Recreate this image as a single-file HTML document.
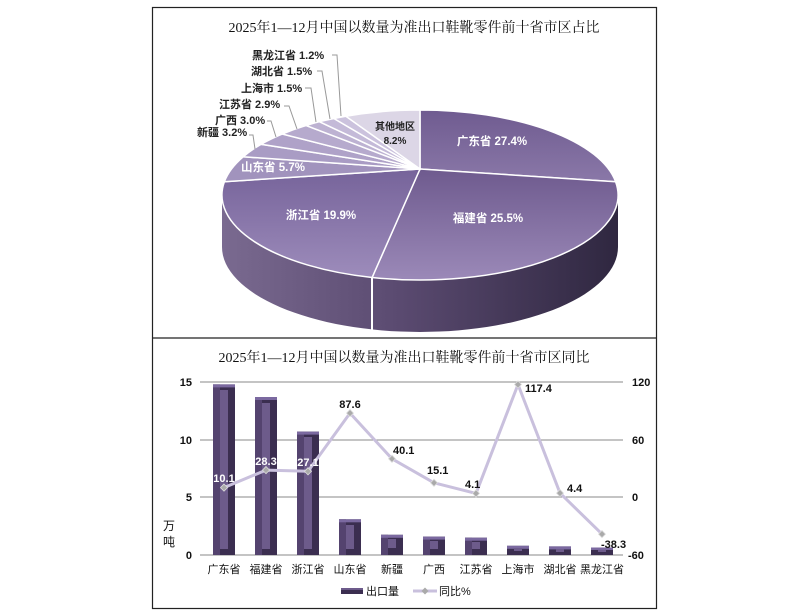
<!DOCTYPE html>
<html><head><meta charset="utf-8"><style>
body{margin:0;background:#fff;width:810px;height:613px;overflow:hidden}
svg{display:block}
text{font-family:"Liberation Sans","Noto Sans CJK SC",sans-serif}
.t{font-family:"Liberation Serif","Noto Serif CJK SC",serif;font-size:14px;fill:#111}
.lb{font-size:11px;font-weight:bold;fill:#222}
.wl{font-size:11.5px;font-weight:bold;fill:#fff}
.ax{font-size:11px;font-weight:bold;fill:#111}
.cat{font-size:11px;fill:#111}
.dl{font-size:11px;font-weight:bold;fill:#111}
</style></head><body>
<svg width="810" height="613" viewBox="0 0 810 613">
<defs>
<linearGradient id="wall" x1="0" x2="1" y1="0" y2="0">
<stop offset="0" stop-color="#7a6a90"/><stop offset="0.45" stop-color="#5a4a70"/><stop offset="1" stop-color="#2f2740"/></linearGradient>
<linearGradient id="gd" x1="0" y1="0" x2="0" y2="1"><stop offset="0" stop-color="#6f5b90"/><stop offset="1" stop-color="#8a78a8"/></linearGradient>
<linearGradient id="fj" x1="0" y1="0" x2="0" y2="1"><stop offset="0" stop-color="#6e5a8e"/><stop offset="1" stop-color="#9b89b8"/></linearGradient>
<linearGradient id="zj" x1="0" y1="0" x2="0" y2="1"><stop offset="0" stop-color="#76639a"/><stop offset="1" stop-color="#9d8cbb"/></linearGradient>
</defs>
<rect x="152.5" y="7.5" width="504" height="601" fill="#fff" stroke="#222" stroke-width="1.2"/>
<line x1="152" y1="338" x2="657" y2="338" stroke="#222" stroke-width="1.2"/>
<text class="t" x="414" y="32" text-anchor="middle">2025年1—12月中国以数量为准出口鞋靴零件前十省市区占比</text>
<!-- pie wall -->
<path d="M618,195 A198,85 0 0 1 222,195 L222,247 A198,85 0 0 0 618,247 Z" fill="url(#wall)"/>
<line x1="372" y1="278" x2="372" y2="332" stroke="#fff" stroke-width="2"/>
<!-- slices -->
<g stroke="#fff" stroke-width="1.5">
<path d="M420,169 L420,110 A198,85 0 0 1 615.6,181.7 Z" fill="url(#gd)"/>
<path d="M420,169 L615.6,181.7 A198,85 0 0 1 372.1,277.5 Z" fill="url(#fj)"/>
<path d="M420,169 L372.1,277.5 A198,85 0 0 1 224.4,181.7 Z" fill="url(#zj)"/>
<path d="M420,169 L224.4,181.7 A198,85 0 0 1 243.2,156.8 Z" fill="#a193bd"/>
<path d="M420,169 L243.2,156.8 A198,85 0 0 1 261,144.3 Z" fill="#a99cc4"/>
<path d="M420,169 L261,144.3 A198,85 0 0 1 282.2,134 Z" fill="#afa2c8"/>
<path d="M420,169 L282.2,134 A198,85 0 0 1 306.1,125.5 Z" fill="#b6aacd"/>
<path d="M420,169 L306.1,125.5 A198,85 0 0 1 319.4,121.7 Z" fill="#bdb2d2"/>
<path d="M420,169 L319.4,121.7 A198,85 0 0 1 333.9,118.5 Z" fill="#c4bad8"/>
<path d="M420,169 L333.9,118.5 A198,85 0 0 1 345.8,116.2 Z" fill="#cbc2dd"/>
<path d="M420,169 L345.8,116.2 A198,85 0 0 1 420,110 Z" fill="#dcd6e6"/>
</g>
<text class="wl" x="492" y="145" text-anchor="middle">广东省 27.4%</text>
<text class="wl" x="488" y="222" text-anchor="middle">福建省 25.5%</text>
<text class="wl" x="321" y="219" text-anchor="middle">浙江省 19.9%</text>
<text class="wl" x="273" y="171" text-anchor="middle">山东省 5.7%</text>
<text class="lb" x="395" y="130" text-anchor="middle" style="font-size:10px">其他地区</text>
<text class="lb" x="395" y="144" text-anchor="middle" style="font-size:10px">8.2%</text>
<!-- leader lines -->
<g stroke="#999" fill="none" stroke-width="1">
<polyline points="332,55 337,55 341,116"/>
<polyline points="317,71 322,71 330,119"/>
<polyline points="305,88 311,88 316,122"/>
<polyline points="284,106 289,106 297,129"/>
<polyline points="267,121 271,121 276,137"/>
<polyline points="249,135 253,135 255,149"/>
</g>
<text class="lb" x="252" y="59">黑龙江省 1.2%</text>
<text class="lb" x="251" y="75">湖北省 1.5%</text>
<text class="lb" x="241" y="92">上海市 1.5%</text>
<text class="lb" x="219" y="108">江苏省 2.9%</text>
<text class="lb" x="215" y="124">广西 3.0%</text>
<text class="lb" x="197" y="136">新疆 3.2%</text>

<!-- bottom chart -->
<text class="t" x="404" y="362" text-anchor="middle">2025年1—12月中国以数量为准出口鞋靴零件前十省市区同比</text>
<g stroke="#888" stroke-width="1">
<line x1="200" y1="382" x2="623" y2="382"/>
<line x1="200" y1="440" x2="623" y2="440"/>
<line x1="200" y1="497" x2="623" y2="497"/>
<line x1="200" y1="555" x2="623" y2="555"/>
</g>
<g class="ax" text-anchor="end">
<text x="192" y="386">15</text><text x="192" y="444">10</text><text x="192" y="501">5</text><text x="192" y="559">0</text>
</g>
<g class="ax">
<text x="632" y="386">120</text><text x="632" y="444">60</text><text x="632" y="501">0</text><text x="628" y="559">-60</text>
</g>
<text class="cat" x="163" y="530" style="font-size:12px">万</text>
<text class="cat" x="163" y="546" style="font-size:12px">吨</text>
<!-- bars -->
<g>
<rect x="213" y="384.4" width="22" height="170.6" fill="#3b2e50"/><rect x="213" y="384.4" width="7" height="170.6" fill="#54436f"/><rect x="220" y="390" width="8" height="159" fill="#6d5b8b"/><rect x="213" y="384.4" width="22" height="3" fill="#7b69a0"/>
<rect x="255" y="397" width="22" height="158" fill="#3b2e50"/><rect x="255" y="397" width="7" height="158" fill="#54436f"/><rect x="262" y="403" width="8" height="146" fill="#6d5b8b"/><rect x="255" y="397" width="22" height="3" fill="#7b69a0"/>
<rect x="297" y="431.6" width="22" height="123.4" fill="#3b2e50"/><rect x="297" y="431.6" width="7" height="123.4" fill="#54436f"/><rect x="304" y="437" width="8" height="112" fill="#6d5b8b"/><rect x="297" y="431.6" width="22" height="3" fill="#7b69a0"/>
<rect x="339" y="519.3" width="22" height="35.7" fill="#3b2e50"/><rect x="339" y="519.3" width="7" height="35.7" fill="#54436f"/><rect x="346" y="525" width="8" height="24" fill="#6d5b8b"/><rect x="339" y="519.3" width="22" height="3" fill="#7b69a0"/>
<rect x="381" y="534.8" width="22" height="20.2" fill="#3b2e50"/><rect x="381" y="534.8" width="7" height="20.2" fill="#54436f"/><rect x="388" y="539" width="8" height="9" fill="#6d5b8b"/><rect x="381" y="534.8" width="22" height="3" fill="#7b69a0"/>
<rect x="423" y="536.6" width="22" height="18.4" fill="#3b2e50"/><rect x="423" y="536.6" width="7" height="18.4" fill="#54436f"/><rect x="430" y="541" width="8" height="8" fill="#6d5b8b"/><rect x="423" y="536.6" width="22" height="3" fill="#7b69a0"/>
<rect x="465" y="537.7" width="22" height="17.3" fill="#3b2e50"/><rect x="465" y="537.7" width="7" height="17.3" fill="#54436f"/><rect x="472" y="542" width="8" height="7" fill="#6d5b8b"/><rect x="465" y="537.7" width="22" height="3" fill="#7b69a0"/>
<rect x="507" y="545.8" width="22" height="9.2" fill="#3b2e50"/><rect x="507" y="545.8" width="22" height="3" fill="#7b69a0"/><rect x="514" y="548" width="8" height="3" fill="#6d5b8b"/>
<rect x="549" y="546.4" width="22" height="8.6" fill="#3b2e50"/><rect x="549" y="546.4" width="22" height="3" fill="#7b69a0"/><rect x="556" y="549" width="8" height="3" fill="#6d5b8b"/>
<rect x="591" y="547.5" width="22" height="7.5" fill="#3b2e50"/><rect x="591" y="547.5" width="22" height="2.5" fill="#7b69a0"/><rect x="598" y="550" width="8" height="2" fill="#6d5b8b"/>
</g>
<!-- line -->
<polyline points="224,487.6 266,470.1 308,471.3 350,413.1 392,458.8 434,482.8 476,493.4 518,384.5 560,493.1 602,534.1" fill="none" stroke="#c9c0dd" stroke-width="3" stroke-linejoin="round"/>
<g fill="#aaa" stroke="#ddd" stroke-width="0.8">
<path d="M224,484 l3.5,3.6 -3.5,3.6 -3.5,-3.6z"/><path d="M266,466.5 l3.5,3.6 -3.5,3.6 -3.5,-3.6z"/><path d="M308,467.7 l3.5,3.6 -3.5,3.6 -3.5,-3.6z"/><path d="M350,409.5 l3.5,3.6 -3.5,3.6 -3.5,-3.6z"/><path d="M392,455.2 l3.5,3.6 -3.5,3.6 -3.5,-3.6z"/><path d="M434,479.2 l3.5,3.6 -3.5,3.6 -3.5,-3.6z"/><path d="M476,489.8 l3.5,3.6 -3.5,3.6 -3.5,-3.6z"/><path d="M518,380.9 l3.5,3.6 -3.5,3.6 -3.5,-3.6z"/><path d="M560,489.5 l3.5,3.6 -3.5,3.6 -3.5,-3.6z"/><path d="M602,530.5 l3.5,3.6 -3.5,3.6 -3.5,-3.6z"/>
</g>
<g class="dl">
<text x="224" y="482" text-anchor="middle" fill="#fff" style="fill:#fff">10.1</text>
<text x="266" y="465" text-anchor="middle" style="fill:#fff">28.3</text>
<text x="308" y="466" text-anchor="middle" style="fill:#fff">27.1</text>
<text x="350" y="408" text-anchor="middle">87.6</text>
<text x="393" y="454">40.1</text>
<text x="427" y="474">15.1</text>
<text x="465" y="488">4.1</text>
<text x="525" y="392">117.4</text>
<text x="567" y="492">4.4</text>
<text x="601" y="548">-38.3</text>
</g>
<g class="cat" text-anchor="middle">
<text x="224" y="573">广东省</text><text x="266" y="573">福建省</text><text x="308" y="573">浙江省</text><text x="350" y="573">山东省</text><text x="392" y="573">新疆</text><text x="434" y="573">广西</text><text x="476" y="573">江苏省</text><text x="518" y="573">上海市</text><text x="560" y="573">湖北省</text><text x="602" y="573">黑龙江省</text>
</g>
<!-- legend -->
<rect x="341" y="588" width="22" height="6" fill="#3b2e50"/><rect x="341" y="588" width="22" height="2" fill="#6d5b8b"/>
<text class="cat" x="366" y="595">出口量</text>
<line x1="413" y1="591" x2="437" y2="591" stroke="#c9c0dd" stroke-width="3"/>
<path d="M425,587.5 l3.5,3.5 -3.5,3.5 -3.5,-3.5z" fill="#aaa"/>
<text class="cat" x="439" y="595">同比%</text>
</svg>
</body></html>
